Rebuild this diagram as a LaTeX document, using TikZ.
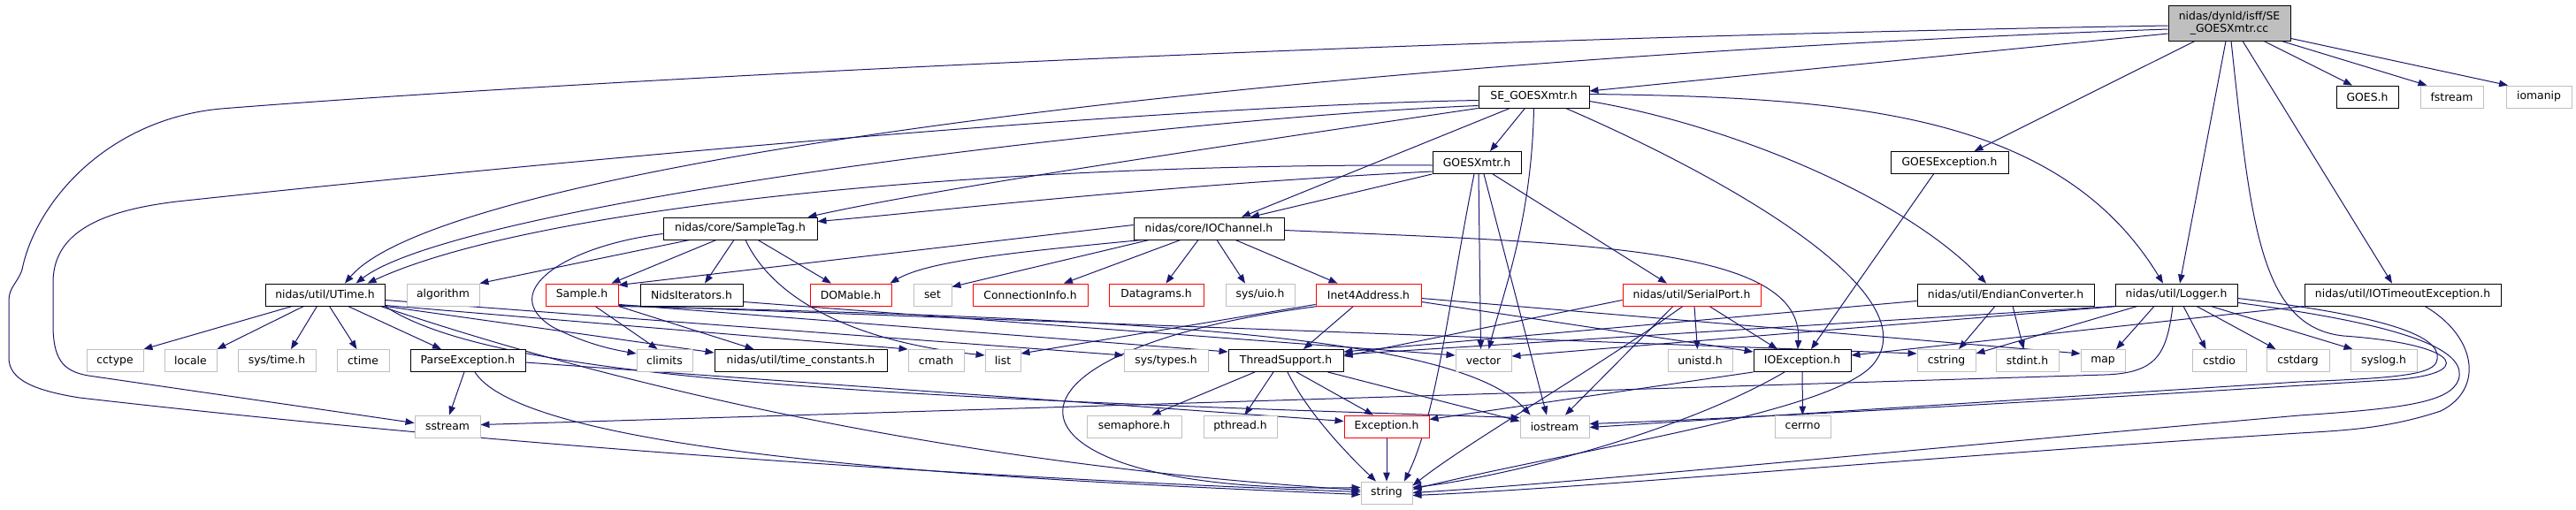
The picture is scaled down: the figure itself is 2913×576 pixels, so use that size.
\documentclass[tikz,border=0pt]{standalone}
\usepackage{fontspec}
\newfontfamily\dvs{DejaVu Sans}
\usetikzlibrary{arrows.meta,calc}
\definecolor{edgeblue}{HTML}{191970}
\definecolor{sysgray}{HTML}{BFBFBF}
\definecolor{srcfill}{HTML}{BFBFBF}
\pgfdeclarelayer{bgfill}
\pgfdeclarelayer{edges}
\pgfsetlayers{bgfill,edges,main}
\tikzset{
  nbox/.style={draw=black, fill=white, line width=0.9pt, minimum height=25pt, inner sep=0pt, font=\dvs\fontsize{12.4}{14.5}\selectfont},
  docbox/.style={nbox},
  sysbox/.style={nbox, draw=sysgray},
  truncbox/.style={nbox, draw=red},
  dep/.style={draw=edgeblue, line width=1pt, -{Triangle[length=10pt,width=7.5pt]}},
}
\begin{document}
\begin{tikzpicture}[x=1pt,y=-1pt]
\useasboundingbox (0,0) rectangle (2913,576);
\begin{pgfonlayer}{bgfill}\fill[white] (0,0) rectangle (2913,576);\end{pgfonlayer}
% row 0
\node[docbox, fill=srcfill, minimum width=138pt, minimum height=40pt, align=center] (src) at (2521,26) {nidas/dynld/isff/SE\\\_GOESXmtr.cc};
% row 1
\node[docbox, minimum width=125pt] (se) at (1734.5,109.5) {SE\_GOESXmtr.h};
\node[docbox, minimum width=70pt] (goes) at (2677,109.5) {GOES.h};
\node[sysbox, minimum width=71pt] (fstream) at (2772.5,109.5) {fstream};
\node[sysbox, minimum width=74pt] (iomanip) at (2871,109.5) {iomanip};
% row 2
\node[docbox, minimum width=100pt] (gx) at (1670,184) {GOESXmtr.h};
\node[docbox, minimum width=133pt] (gexc) at (2204.5,184) {GOESException.h};
% row 3
\node[docbox, minimum width=174pt] (stag) at (837,258.5) {nidas/core/SampleTag.h};
\node[docbox, minimum width=170pt] (ioch) at (1367,258.5) {nidas/core/IOChannel.h};
% row 4
\node[docbox, minimum width=135pt] (utime) at (367.5,333.5) {nidas/util/UTime.h};
\node[sysbox, minimum width=82pt] (algo) at (501,333.5) {algorithm};
\node[truncbox, minimum width=82pt] (sample) at (658,333.5) {Sample.h};
\node[docbox, minimum width=116pt] (nids) at (782,333.5) {NidsIterators.h};
\node[truncbox, minimum width=92pt] (domable) at (962,333.5) {DOMable.h};
\node[sysbox, minimum width=43pt] (set) at (1054.5,333.5) {set};
\node[truncbox, minimum width=130pt] (conn) at (1165,333.5) {ConnectionInfo.h};
\node[truncbox, minimum width=107pt] (dgram) at (1307.5,333.5) {Datagrams.h};
\node[sysbox, minimum width=78pt] (uio) at (1425,333.5) {sys/uio.h};
\node[truncbox, minimum width=119pt] (inet) at (1547.5,333.5) {Inet4Address.h};
\node[truncbox, minimum width=156pt] (serial) at (1913,333.5) {nidas/util/SerialPort.h};
\node[docbox, minimum width=200pt] (endian) at (2268,333.5) {nidas/util/EndianConverter.h};
\node[docbox, minimum width=138pt] (logger) at (2461,333.5) {nidas/util/Logger.h};
\node[docbox, minimum width=222pt] (iotime) at (2717,333.5) {nidas/util/IOTimeoutException.h};
% row 5
\node[sysbox, minimum width=64pt] (cctype) at (130,408) {cctype};
\node[sysbox, minimum width=59pt] (locale) at (215.5,408) {locale};
\node[sysbox, minimum width=88pt] (systime) at (313,408) {sys/time.h};
\node[sysbox, minimum width=59pt] (ctime) at (410.5,408) {ctime};
\node[docbox, minimum width=130pt] (parse) at (529,408) {ParseException.h};
\node[sysbox, minimum width=63pt] (climits) at (751.5,408) {climits};
\node[docbox, minimum width=195pt] (tconst) at (905.5,408) {nidas/util/time\_constants.h};
\node[sysbox, minimum width=63pt] (cmath) at (1058.5,408) {cmath};
\node[sysbox, minimum width=40pt] (list) at (1134,408) {list};
\node[sysbox, minimum width=95pt] (systypes) at (1318.5,408) {sys/types.h};
\node[docbox, minimum width=130pt] (thread) at (1454,408) {ThreadSupport.h};
\node[sysbox, minimum width=63pt] (vector) at (1677.5,408) {vector};
\node[sysbox, minimum width=73pt] (unistd) at (1922.5,408) {unistd.h};
\node[docbox, minimum width=110pt] (ioexc) at (2038,408) {IOException.h};
\node[sysbox, minimum width=66pt] (cstring) at (2201,408) {cstring};
\node[sysbox, minimum width=71pt] (stdint) at (2292.5,408) {stdint.h};
\node[sysbox, minimum width=50pt] (map) at (2378,408) {map};
\node[sysbox, minimum width=61pt] (cstdio) at (2509.5,408) {cstdio};
\node[sysbox, minimum width=71pt] (cstdarg) at (2598.5,408) {cstdarg};
\node[sysbox, minimum width=75pt] (syslog) at (2695.5,408) {syslog.h};
% row 6
\node[sysbox, minimum width=74pt] (sstream) at (506,482.5) {sstream};
\node[sysbox, minimum width=107pt] (sem) at (1282.5,482.5) {semaphore.h};
\node[sysbox, minimum width=83pt] (pthread) at (1402.5,482.5) {pthread.h};
\node[truncbox, minimum width=96pt] (exc) at (1568,482.5) {Exception.h};
\node[sysbox, minimum width=78pt] (iostream) at (1758,482.5) {iostream};
\node[sysbox, minimum width=63pt] (cerrno) at (2038.5,482.5) {cerrno};
% row 7
\node[sysbox, minimum width=58pt] (string) at (1568,557.5) {string};

\begin{pgfonlayer}{edges}
% source file
\draw[dep] ($(src.west)+(0,12)$) -- ($(se.east)+(0,-6.5)$);
\draw[dep] ($(src.south)+(39,0)$) -- ($(goes.north)+(-17,0)$);
\draw[dep] ($(src.south)+(59,0)$) -- ($(fstream.north)+(-28,0)$);
\draw[dep] ($(src.south east)+(0,-3)$) -- ($(iomanip.north)+(-35,0)$);
\draw[dep] ($(src.south)+(-39,0)$) -- ($(gexc.north)+(28,0)$);
\draw[dep] ($(src.south)+(-4,0)$) -- ($(logger.north)+(4,0)$);
\draw[dep] ($(src.south)+(15,0)$) -- ($(iotime.north)+(-12,0)$);
\draw[dep] ($(src.south)+(2,0)$) .. controls (2545,250) and (2555,370) .. (2650,380) .. controls (2790,390) and (2800,425) .. (2700,430) .. controls (2300,455) and (2000,472) .. ($(iostream.east)+(0,-3)$);
\draw[dep] ($(src.west)+(0,7)$) .. controls (1400,70) and (500,190) .. ($(utime.north)+(22.5,0)$);
\draw[dep] ($(src.west)+(0,3)$) .. controls (1500,45) and (600,95) .. (250,123) .. controls (120,135) and (40,230) .. (25,305) .. controls (20,320) and (10,325) .. (10,340) -- (10,405) .. controls (10,430) and (40,442) .. (90,450) .. controls (700,520) and (1300,548) .. ($(string.west)+(0,-1)$);
% SE_GOESXmtr.h
\draw[dep] ($(se.west)+(0,4)$) .. controls (1300,120) and (600,185) .. (200,228) .. controls (100,240) and (60,270) .. (60,320) -- (60,367) .. controls (60,405) and (70,420) .. (100,425) -- ($(sstream.west)+(0,-4)$);
\draw[dep] ($(se.west)+(0,10)$) .. controls (1300,135) and (520,230) .. ($(utime.north)+(35,0)$);
\draw[dep] (se.south west) .. controls (1350,170) and (1050,215) .. ($(stag.north east)+(-11,0)$);
\draw[dep] ($(se.south)+(-27,0)$) -- ($(ioch.north)+(37,0)$);
\draw[dep] ($(se.south)+(-10,0)$) -- ($(gx.north)+(15,0)$);
\draw[dep] (se.south) .. controls (1732,250) and (1700,330) .. ($(vector.north)+(6,0)$);
\draw[dep] ($(se.south)+(36,0)$) .. controls (1950,200) and (2180,330) .. (2120,410) .. controls (2080,465) and (1800,505) .. ($(string.east)+(0,-4)$);
\draw[dep] ($(se.east)+(0,-3)$) .. controls (2100,110) and (2330,130) .. ($(logger.north)+(-15,0)$);
\draw[dep] ($(se.east)+(0,5)$) .. controls (1950,140) and (2150,220) .. ($(endian.north)+(-22,0)$);
% GOESXmtr.h
\draw[dep] (gx.south west) -- ($(ioch.north)+(47,0)$);
\draw[dep] ($(gx.west)+(0,3)$) .. controls (1100,185) and (600,235) .. ($(utime.north)+(48,0)$);
\draw[dep] ($(gx.west)+(0,10)$) .. controls (1300,210) and (1050,240) .. ($(stag.east)+(0,-8)$);
\draw[dep] ($(gx.south)+(18,0)$) -- ($(serial.north)+(-28,0)$);
\draw[dep] ($(gx.south)+(2,0)$) -- ($(vector.north)+(-3,0)$);
\draw[dep] ($(gx.south)+(8,0)$) -- ($(iostream.north)+(-9,0)$);
\draw[dep] ($(gx.south)+(-3,0)$) .. controls (1640,330) and (1625,470) .. ($(string.north)+(20,0)$);
% GOESException.h
\draw[dep] ($(gexc.south)+(-18,0)$) -- ($(ioexc.north)+(10,0)$);
% SampleTag.h
\draw[dep] ($(stag.south)+(-57,0)$) -- (algo.north east);
\draw[dep] ($(stag.south)+(-27,0)$) -- ($(sample.north east)+(-8,0)$);
\draw[dep] ($(stag.south)+(-7,0)$) -- ($(nids.north)+(15,0)$);
\draw[dep] ($(stag.south)+(20,0)$) -- ($(domable.north)+(-22,0)$);
\draw[dep] ($(stag.south)+(6,0)$) .. controls (870,330) and (950,385) .. ($(list.west)+(0,-6)$);
\draw[dep] ($(stag.west)+(0,6)$) .. controls (640,278) and (560,330) .. (625,370) .. controls (660,388) and (690,395) .. ($(climits.west)+(0,-8)$);
% IOChannel.h
\draw[dep] ($(ioch.west)+(0,-4)$) -- ($(sample.north east)+(0,2)$);
\draw[dep] ($(ioch.south west)+(10,0)$) .. controls (1150,285) and (1050,295) .. ($(domable.north east)+(-2,0)$);
\draw[dep] ($(ioch.south west)+(18,0)$) -- ($(set.east)+(0,-9)$);
\draw[dep] ($(ioch.south)+(-32,0)$) -- ($(conn.north)+(38,0)$);
\draw[dep] ($(ioch.south)+(-12,0)$) -- ($(dgram.north)+(11,0)$);
\draw[dep] ($(ioch.south)+(9,0)$) -- ($(uio.north)+(-17,0)$);
\draw[dep] ($(ioch.south)+(30,0)$) -- ($(inet.north)+(-35,0)$);
\draw[dep] ($(ioch.east)+(0,2)$) .. controls (1800,275) and (2040,280) .. ($(ioexc.north)+(-5,0)$);
% UTime.h
\draw[dep] ($(utime.south)+(-37,0)$) -- (cctype.north east);
\draw[dep] ($(utime.south)+(-24,0)$) -- (locale.north east);
\draw[dep] ($(utime.south)+(-9,0)$) -- ($(systime.north)+(16,0)$);
\draw[dep] ($(utime.south)+(5,0)$) -- ($(ctime.north)+(-7,0)$);
\draw[dep] ($(utime.south)+(26,0)$) -- ($(parse.north)+(-30,0)$);
\draw[dep] ($(utime.east)+(0,12)$) -- (cmath.north west);
\draw[dep] (utime.south east) -- ($(tconst.west)+(0,-9)$);
\draw[dep] ($(utime.east)+(0,6)$) -- ($(systypes.west)+(0,-6)$);
\draw[dep] (utime.south east) .. controls (560,430) and (1000,450) .. ($(iostream.west)+(0,-10)$);
\draw[dep] ($(utime.south east)+(-5,0)$) .. controls (620,410) and (1000,520) .. ($(string.west)+(0,-3)$);
% Sample.h
\draw[dep] ($(sample.south)+(15,0)$) -- ($(climits.north)+(-8,0)$);
\draw[dep] (sample.south east) -- ($(tconst.north)+(-53,0)$);
\draw[dep] ($(sample.south east)+(0,-2)$) -- ($(thread.west)+(0,-10)$);
\draw[dep] ($(sample.south east)+(0,-1)$) -- ($(cstring.west)+(0,-8)$);
\draw[dep] (sample.south east) .. controls (1300,360) and (1650,380) .. ($(iostream.north west)+(12,0)$);
% NidsIterators.h
\draw[dep] ($(nids.east)+(0,8)$) -- ($(vector.west)+(0,-6)$);
% ParseException.h
\draw[dep] ($(parse.south)+(-4,0)$) -- ($(sstream.north)+(2,0)$);
\draw[dep] ($(parse.south)+(8,0)$) .. controls (600,520) and (1200,545) .. ($(string.west)+(0,2)$);
\draw[dep] ($(parse.east)+(0,2)$) -- ($(exc.west)+(0,-6)$);
% Inet4Address.h
\draw[dep] ($(inet.south)+(-17,0)$) -- ($(thread.north)+(20,0)$);
\draw[dep] ($(inet.south west)+(0,-2)$) -- ($(list.east)+(0,-8)$);
\draw[dep] ($(inet.south west)+(3,0)$) .. controls (1080,400) and (1120,560) .. ($(string.west)+(0,-6)$);
\draw[dep] ($(inet.east)+(0,4)$) -- ($(map.west)+(0,-8)$);
\draw[dep] ($(inet.east)+(0,8)$) -- ($(ioexc.west)+(0,-10)$);
% SerialPort.h
\draw[dep] ($(serial.west)+(0,6)$) -- ($(thread.east)+(0,-5)$);
\draw[dep] ($(serial.south)+(3,0)$) -- ($(unistd.north)+(-3,0)$);
\draw[dep] ($(serial.south)+(20,0)$) -- ($(ioexc.north)+(-28,0)$);
\draw[dep] ($(serial.south)+(-21,0)$) -- ($(iostream.north)+(12,0)$);
\draw[dep] ($(serial.south)+(-10,0)$) .. controls (1800,420) and (1660,500) .. ($(string.east)+(0,-8)$);
% EndianConverter.h
\draw[dep] ($(endian.south)+(-12,0)$) -- ($(cstring.north)+(14,0)$);
\draw[dep] ($(endian.south)+(8,0)$) -- ($(stdint.north)+(-4,0)$);
\draw[dep] ($(endian.west)+(0,7)$) -- ($(thread.east)+(0,-10)$);
% Logger.h
\draw[dep] (logger.south west) -- ($(thread.east)+(0,-7)$);
\draw[dep] ($(logger.south west)+(3,0)$) -- ($(vector.east)+(0,-5)$);
\draw[dep] ($(logger.south)+(-44,0)$) -- ($(cstring.east)+(0,-8)$);
\draw[dep] ($(logger.south)+(-25,0)$) -- ($(map.north)+(15,0)$);
\draw[dep] ($(logger.south)+(8,0)$) -- ($(cstdio.north)+(-15,0)$);
\draw[dep] ($(logger.south)+(23,0)$) -- ($(cstdarg.north)+(-25,0)$);
\draw[dep] ($(logger.south)+(39,0)$) -- ($(syslog.north)+(-35,0)$);
\draw[dep] ($(logger.south)+(-4,0)$) .. controls (2450,400) and (2440,422) .. (2380,424) .. controls (1600,448) and (900,470) .. ($(sstream.east)+(0,-2)$);
\draw[dep] ($(logger.east)+(0,4)$) .. controls (2720,360) and (2765,385) .. (2755,410) .. controls (2748,425) and (2700,428) .. (2600,432) -- ($(iostream.east)+(0,1)$);
\draw[dep] ($(logger.east)+(0,9)$) .. controls (2740,370) and (2790,400) .. (2780,430) .. controls (2770,455) and (2720,462) .. (2600,470) .. controls (2200,505) and (1800,545) .. (string.east);
% IOTimeoutException.h
\draw[dep] (iotime.south west) -- ($(ioexc.east)+(0,-6)$);
\draw[dep] ($(iotime.south)+(25,0)$) .. controls (2800,380) and (2810,440) .. (2760,465) .. controls (2700,485) and (2650,487) .. (2600,490) .. controls (2200,515) and (1800,552) .. ($(string.east)+(0,3)$);
% ThreadSupport.h
\draw[dep] ($(thread.south)+(-35,0)$) -- ($(sem.north)+(20,0)$);
\draw[dep] ($(thread.south)+(-14,0)$) -- ($(pthread.north)+(5,0)$);
\draw[dep] ($(thread.south)+(2,0)$) .. controls (1480,470) and (1530,520) .. ($(string.north)+(-12,0)$);
\draw[dep] ($(thread.south)+(12,0)$) -- ($(exc.north)+(-15,0)$);
\draw[dep] ($(thread.south east)+(-18,0)$) -- ($(iostream.west)+(0,-6)$);
% Exception.h, IOException.h
\draw[dep] (exc) -- (string);
\draw[dep] (ioexc.south west) -- ($(exc.east)+(0,-8)$);
\draw[dep] (ioexc) -- (cerrno);
\draw[dep] ($(ioexc.south)+(-20,0)$) .. controls (1900,490) and (1700,540) .. ($(string.east)+(0,-6)$);
\end{pgfonlayer}
\end{tikzpicture}
\end{document}
